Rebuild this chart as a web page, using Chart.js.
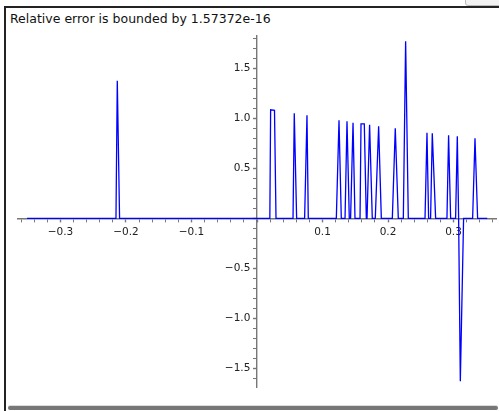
<!DOCTYPE html>
<html>
<head>
<meta charset="utf-8">
<script src="https://cdn.jsdelivr.net/npm/chart.js@4/dist/chart.umd.min.js"></script>
<style>
  html, body { margin: 0; padding: 0; background: #fff; overflow: hidden; }
  body { width: 499px; height: 411px; position: relative; font-family: "DejaVu Sans", sans-serif; }
  #frame { position: absolute; left: 4px; top: 6px; width: 600px; height: 500px;
           border-left: 2px solid #222; border-top: 2px solid #222; }
  #btn { position: absolute; left: 465px; top: -5px; width: 40px; height: 9px;
         background: #f2f2f2; border: 1px solid #bbb; border-radius: 3px; }
  #title { position: absolute; left: 10px; top: 11px; font-size: 12.5px; color: #111; white-space: nowrap; }
  #scroll { position: absolute; left: 8px; top: 406px; width: 490px; height: 4px;
            background: #777; border-radius: 2px; box-shadow: 0 -1px 0 #ddd; }
  #plot { position: absolute; left: 17px; top: 35px; }
</style>
</head>
<body>
<div id="frame"></div>
<div id="btn"></div>
<div id="title">Relative error is bounded by 1.57372e-16</div>
<canvas id="plot" width="480" height="353"></canvas>
<div id="scroll"></div>
<script>
// ==============================
// DATOS (vértices de la curva)
// ==============================
const xs = [
    -0.351, -0.2153, -0.2133, -0.2098,
    0.0196, 0.0208, 0.0267, 0.0290,
    0.0550, 0.0569, 0.0605,
    0.0727, 0.0763, 0.0783,
    0.1211, 0.1252, 0.1287,
    0.1344, 0.1374, 0.1409,
    0.1429, 0.1466, 0.1496,
    0.1573, 0.1588, 0.1638, 0.1669,
    0.1680, 0.1719, 0.1760,
    0.1806, 0.1857, 0.1898,
    0.2066, 0.2111, 0.2157,
    0.2234, 0.2269, 0.2310,
    0.2565, 0.2595, 0.2620,
    0.2650, 0.2676, 0.2727,
    0.2900, 0.2925, 0.2956,
    0.3032, 0.3058, 0.3078,
    0.3104, 0.3154,
    0.3292, 0.3328, 0.3368,
    0.3515
];
const ys = [
    0, 0, 1.375, 0,
    0, 1.085, 1.08, 0,
    0, 1.05, 0,
    0, 1.03, 0,
    0, 0.98, 0,
    0, 0.97, 0,
    0, 0.955, 0,
    0, 0.945, 0.945, 0,
    0, 0.935, 0,
    0, 0.92, 0,
    0, 0.90, 0,
    0, 1.77, 0,
    0, 0.856, 0,
    0, 0.85, 0,
    0, 0.83, 0,
    0, 0.82, 0,
    -1.63, 0,
    0, 0.80, 0,
    0
];

// rango de los ejes
const xRange = [-0.3664, 0.3664];
const yRange = [-1.697, 1.833];
const xMajor = 0.1, xMinor = 0.02;
const yMajor = 0.5, yMinor = 0.1;

const puntos = xs.map((x, i) => ({ x: x, y: ys[i] }));

function esMultiplo(v, paso) {
    const q = v / paso;
    return Math.abs(q - Math.round(q)) < 1e-6;
}
function etiqueta(v, paso) {
    if (!esMultiplo(v, paso) || Math.abs(v) < 1e-9) return "";
    return v.toFixed(1).replace("-", "\u2212");
}

const fuente = { family: "DejaVu Sans", size: 10.5 };

new Chart(document.getElementById("plot"), {
    type: "scatter",
    data: {
        datasets: [{
            data: puntos,
            showLine: true,
            borderColor: "#0000ff",
            borderWidth: 1.3,
            pointRadius: 0,
            tension: 0
        }]
    },
    options: {
        responsive: false,
        animation: false,
        devicePixelRatio: 1,
        layout: { padding: 0, autoPadding: false },
        plugins: { legend: { display: false }, tooltip: { enabled: false } },
        scales: {
            x: {
                type: "linear",
                position: { y: 0 },
                min: xRange[0],
                max: xRange[1],
                afterFit: s => { s.height = 0; s.paddingLeft = 0; s.paddingRight = 0; },
                border: { color: "#777", width: 1.4 },
                grid: { drawOnChartArea: false, drawTicks: true, tickLength: 3, tickColor: "#777",
                        tickWidth: c => esMultiplo(c.tick.value, xMajor) ? 1.4 : 1 },
                ticks: {
                    stepSize: xMinor,
                    includeBounds: false,
                    autoSkip: false,
                    maxRotation: 0,
                    padding: 5,
                    color: "#222",
                    font: fuente,
                    callback: v => etiqueta(v, xMajor)
                }
            },
            y: {
                type: "linear",
                position: { x: 0 },
                min: yRange[0],
                max: yRange[1],
                afterFit: s => { s.width = 0; s.paddingTop = 0; s.paddingBottom = 0; },
                border: { color: "#777", width: 1.4 },
                grid: { drawOnChartArea: false, drawTicks: true, tickLength: 3, tickColor: "#777",
                        tickWidth: c => esMultiplo(c.tick.value, yMajor) ? 1.4 : 1 },
                ticks: {
                    stepSize: yMinor,
                    includeBounds: false,
                    autoSkip: false,
                    color: "#222",
                    font: fuente,
                    callback: v => {
                        const t = etiqueta(v, yMajor);
                        return t ? t + "  " : "";
                    }
                }
            }
        }
    }
});
</script>
</body>
</html>
